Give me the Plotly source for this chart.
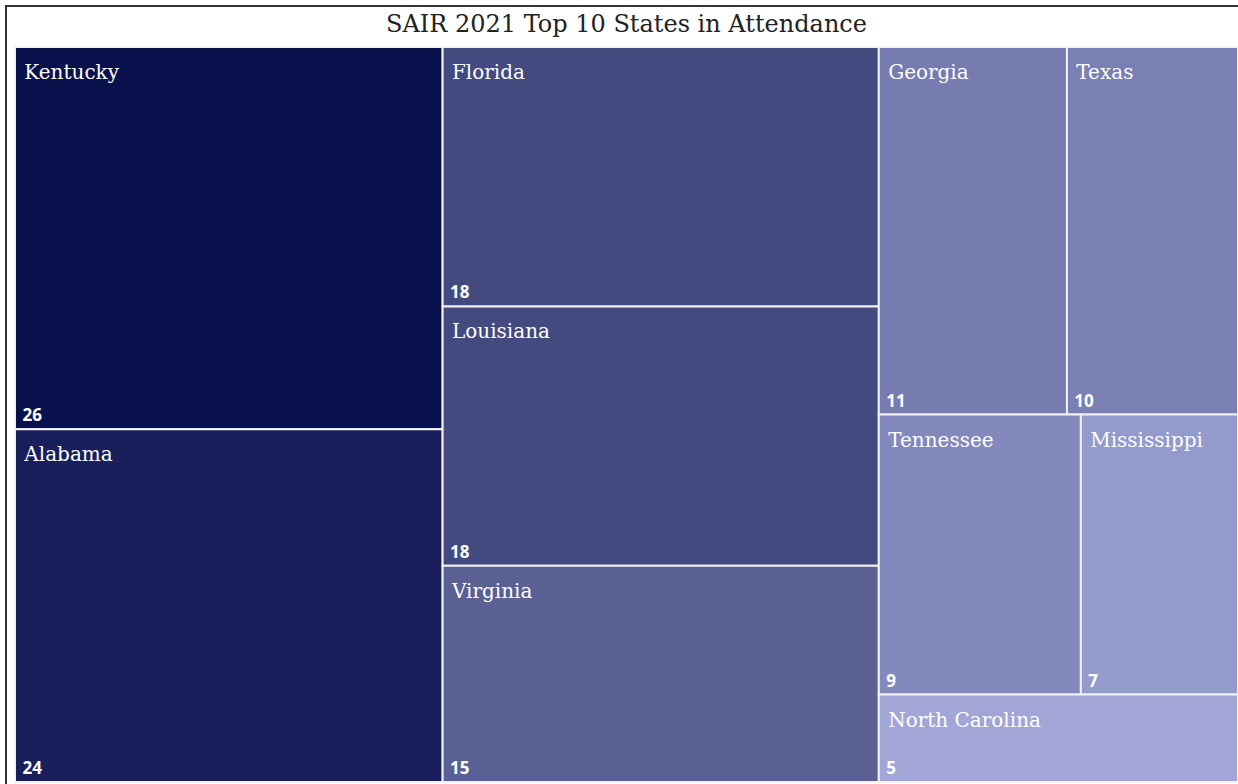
import plotly.graph_objects as go

states = ["Kentucky", "Alabama", "Florida", "Louisiana", "Virginia",
          "Georgia", "Texas", "Tennessee", "Mississippi", "North Carolina"]
attendance = [26, 24, 18, 18, 15, 11, 10, 9, 7, 5]
colors = ["#09114C", "#181F5B", "#434A7F", "#434A7F", "#5B6094",
          "#767BB0", "#7A80B3", "#8389BD", "#939ACC", "#A1A6D7"]
parents = [""] * len(states)

title_text = "SAIR 2021 Top 10 States in Attendance"

serif = "Georgia, DejaVu Serif, serif"
sans = "Open Sans, Noto Sans, sans-serif"

fig = go.Figure()

fig.add_trace(go.Treemap(
    labels=states,
    parents=parents,
    values=attendance,
    sort=True,
    marker=dict(colors=colors, line=dict(color="#F2F2F2", width=2), pad=dict(t=0, l=0, r=0, b=0)),
    tiling=dict(squarifyratio=1.618, pad=0),
    texttemplate="<span style='font-size:3px;color:rgba(0,0,0,0)'>.</span><br>&nbsp;%{label}",
    textposition="top left",
    textfont=dict(family=serif, size=20, color="white"),
    pathbar=dict(visible=False),
    hoverinfo="skip",
    root=dict(color="white"),
))

fig.add_trace(go.Treemap(
    labels=states,
    parents=parents,
    values=attendance,
    sort=True,
    marker=dict(colors=["rgba(0,0,0,0)"] * len(states), line=dict(width=0), pad=dict(t=0, l=0, r=0, b=0)),
    tiling=dict(squarifyratio=1.618, pad=0),
    texttemplate="&nbsp;<b>%{value}</b>",
    textposition="bottom left",
    textfont=dict(family=sans, size=17, color="white"),
    pathbar=dict(visible=False),
    hoverinfo="skip",
    root=dict(color="rgba(0,0,0,0)"),
))

fig.update_layout(
    width=1238,
    height=784,
    margin=dict(l=15, r=0, t=47, b=2),
    paper_bgcolor="white",
    title=dict(text=title_text, x=0.5, xref="paper", xanchor="center",
               y=1 - 24 / 784, yanchor="middle",
               font=dict(family=serif, size=24, color="#222222")),
    shapes=[dict(type="rect", xref="paper", yref="paper",
                 x0=-9 / 1223, x1=1.02, y0=-0.05, y1=1 + 41 / 735,
                 line=dict(color="#333333", width=2), fillcolor="rgba(0,0,0,0)")],
    showlegend=False,
)

fig.write_html("out.html", config={"displayModeBar": False},
               post_script="document.body.style.margin='0';document.body.style.overflow='hidden';")
